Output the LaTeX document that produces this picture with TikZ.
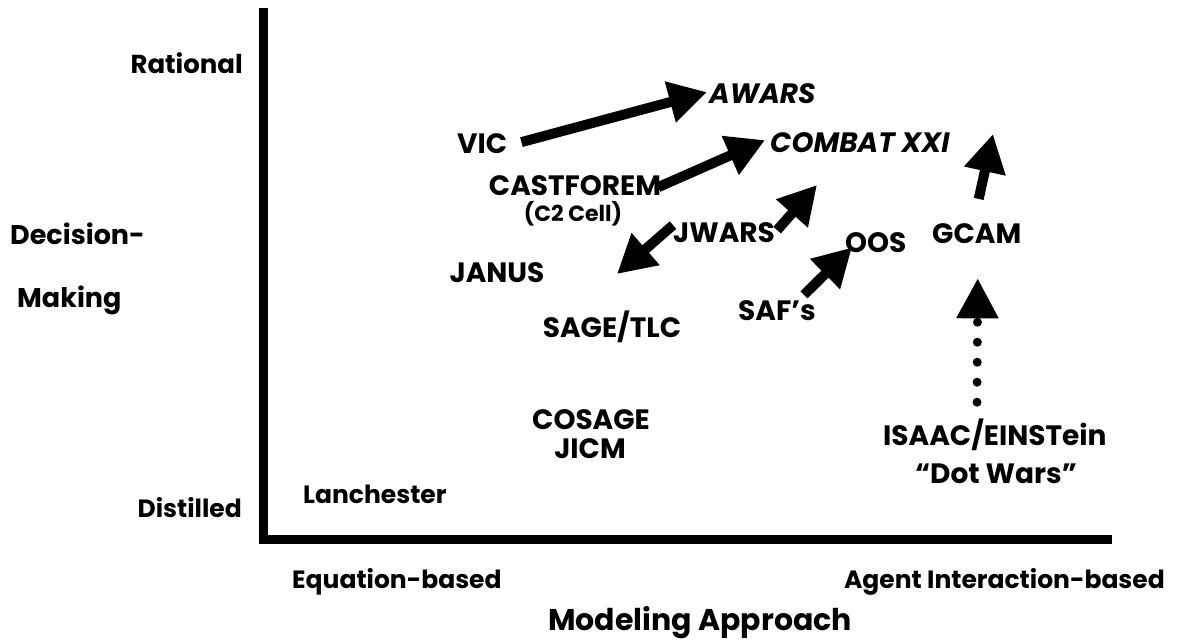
\documentclass[tikz,border=0pt]{standalone}
\usepackage{fontspec}
\setmainfont{Poppins}
\usetikzlibrary{arrows.meta,calc}
\begin{document}
\begin{tikzpicture}[x=1pt,y=-1pt,
		lbl/.style={inner sep=0pt,font=\bfseries\fontsize{25}{30}\selectfont},
		caps/.style={inner sep=0pt,font=\bfseries\fontsize{28}{32}\selectfont},
		ital/.style={inner sep=0pt,font=\bfseries\itshape\fontsize{28}{32}\selectfont},
		small/.style={inner sep=0pt,font=\bfseries\fontsize{22}{26}\selectfont},
		fat/.style={line width=10pt,-{Triangle[length=38pt,width=40pt]}},
		dots/.style={line width=9pt,line cap=round,dash pattern=on 0pt off 20pt,-{Triangle[length=40pt,width=40pt]}}]
	\useasboundingbox (0,0) rectangle (1177,642);
	% axes
	\coordinate (top) at (263,8);
	\coordinate (origin) at (263,539);
	\coordinate (right) at (1112,539);
	\draw[line width=9pt] (top) -- (origin) -- (right);
	\node[lbl,font=\bfseries\fontsize{26}{30}\selectfont,anchor=base east] (rat) at (243,74) {Rational};
	\node[lbl,font=\bfseries\fontsize{27}{30}\selectfont,anchor=base west] (dec) at (10,244) {Decision-};
	\node[lbl,font=\bfseries\fontsize{27}{30}\selectfont,anchor=base west] (mak) at (17,307) {Making};
	\node[lbl,anchor=base east] (dis) at (242,517) {Distilled};
	\node[lbl,anchor=base west] (equ) at (292,588) {Equation-based};
	\node[lbl,anchor=base east] (agent) at (1165,588) {Agent Interaction-based};
	\node[lbl,font=\bfseries\fontsize{30}{34}\selectfont,anchor=base] (approach) at (700,630) {Modeling Approach};
	% models
	\node[lbl,anchor=base west] (lan) at (303,503) {Lanchester};
	\node[caps,anchor=base] (cosage) at (591,429) {COSAGE};
	\node[caps,anchor=base] (jicm) at (590,458) {JICM};
	\node[caps,anchor=base] (sage) at (612,337) {SAGE/TLC};
	\node[caps,anchor=base] (janus) at (497,282) {JANUS};
	\node[caps,anchor=base west] (vic) at (457,153) {VIC};
	\node[caps,anchor=base] (cast) at (575,195) {CASTFOREM};
	\node[small,anchor=base] (cell) at (573,221) {(C2 Cell)};
	\node[ital,anchor=base west] (awars) at (709,103) {AWARS};
	\node[ital,anchor=base west] (combat) at (770,152) {COMBAT XXI};
	\node[caps,anchor=base west] (jwars) at (673,242) {JWARS};
	\node[caps,anchor=base west] (oos) at (845,252) {OOS};
	\node[caps,anchor=base west] (gcam) at (932,243) {GCAM};
	\node[caps,anchor=base west] (safs) at (738,320) {SAF’s};
	\node[caps,anchor=base west] (isaac) at (883,445) {ISAAC/EINSTein};
	\node[caps,anchor=base] (dot) at (996,483) {“Dot Wars”};
	\coordinate (jwup) at (817,185);
	\coordinate (jwdown) at (617,274);
	\coordinate (gcup) at (993,134);
	% arrows
	\draw[fat] ($(vic.east)+(14,-1)$) -- ($(awars.west)+(-2,-1)$);
	\draw[fat] ($(cast.east)+(-3,2)$) -- ($(combat.west)+(-5,-2)$);
	\draw[fat] ($(jwars.east)+(2,-2)$) -- (jwup);
	\draw[fat] ($(jwars.west)+(0,-7)$) -- (jwdown);
	\draw[fat] ($(safs.north east)+(-12,-5)$) -- ($(oos.south west)+(7,-5)$);
	\draw[fat] ($(gcam.north)+(2,-24)$) -- (gcup);
	\draw[dots] ($(isaac.north west)+(94,-16)$) -- ($(gcam.south)+(1,35)$);
\end{tikzpicture}
\end{document}
